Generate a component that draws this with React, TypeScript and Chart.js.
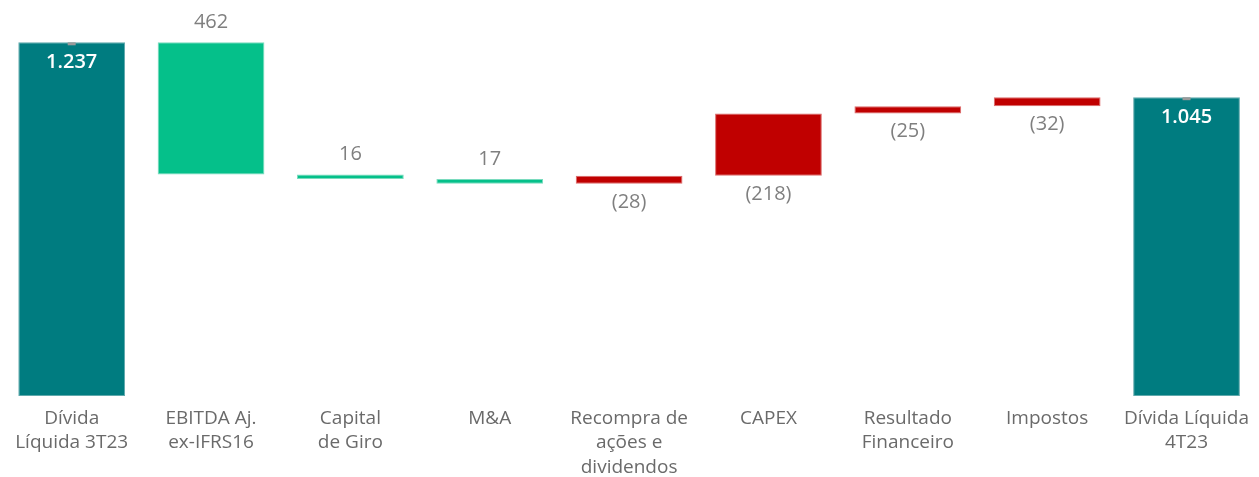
import React, { useEffect, useRef } from "react";
import { Chart, registerables } from "chart.js";

Chart.register(...registerables);

const categories: string[][] = [
  ["Dívida", "Líquida 3T23"],
  ["EBITDA Aj.", "ex-IFRS16"],
  ["Capital", "de Giro"],
  ["M&A"],
  ["Recompra de", "ações e", "dividendos"],
  ["CAPEX"],
  ["Resultado", "Financeiro"],
  ["Impostos"],
  ["Dívida Líquida", "4T23"],
];

// Net debt waterfall: positive items reduce debt, negative items increase it
const values: number[] = [1237, 462, 16, 17, -28, -218, -25, -32, 1045];
const kinds: string[] = ["total", "pos", "pos", "pos", "neg", "neg", "neg", "neg", "total"];

const TEAL = "#007C80";
const GREEN = "#05C08A";
const RED = "#C00000";
const LABEL_GREY = "#7F7F7F";
const AXIS_GREY = "#6A6A6A";
const FONT = "'Open Sans', sans-serif";

function buildRanges(): [number, number][] {
  const out: [number, number][] = [];
  let level = 0;
  values.forEach((v, i) => {
    if (kinds[i] === "total") {
      out.push([0, v]);
      level = v;
    } else {
      out.push([level, level - v]);
      level = level - v;
    }
  });
  return out;
}

function fmt(v: number, kind: string): string {
  const abs = Math.abs(v);
  const s = String(abs).replace(/\B(?=(\d{3})+(?!\d))/g, ".");
  if (kind === "neg") return "(" + s + ")";
  return s;
}

const labelPlugin = {
  id: "wfLabels",
  afterDatasetsDraw(chart: any) {
    const ctx = chart.ctx;
    const meta = chart.getDatasetMeta(0);
    ctx.save();
    ctx.textAlign = "center";
    ctx.textBaseline = "middle";
    meta.data.forEach((el: any, i: number) => {
      const top = Math.min(el.y, el.base);
      const bottom = Math.max(el.y, el.base);
      const kind = kinds[i];
      const txt = fmt(values[i], kind);
      if (kind === "total") {
        ctx.fillStyle = "#9A9A9A";
        ctx.fillRect(el.x - 4, top, 8, 3);
        ctx.font = "600 20px " + FONT;
        ctx.fillStyle = "#FFFFFF";
        ctx.fillText(txt, el.x, top + 20);
      } else if (kind === "pos") {
        ctx.font = "20px " + FONT;
        ctx.fillStyle = LABEL_GREY;
        ctx.fillText(txt, el.x, top - 20);
      } else {
        ctx.font = "20px " + FONT;
        ctx.fillStyle = LABEL_GREY;
        ctx.fillText(txt, el.x, bottom + 18);
      }
    });
    ctx.restore();
  },
};

export default function App() {
  const ref = useRef<HTMLCanvasElement | null>(null);

  useEffect(() => {
    if (!ref.current) return;
    const colors = kinds.map((k) => (k === "total" ? TEAL : k === "pos" ? GREEN : RED));
    const borders = kinds.map((k) =>
      k === "total" ? "#5FA9AC" : k === "pos" ? "#7ADBBE" : "#DB6A6A"
    );
    const chart = new Chart(ref.current, {
      type: "bar",
      data: {
        labels: categories,
        datasets: [
          {
            data: buildRanges() as any,
            backgroundColor: colors,
            borderColor: borders,
            borderWidth: 1,
            borderSkipped: false,
            barPercentage: 0.766,
            categoryPercentage: 1,
          },
        ],
      },
      options: {
        responsive: false,
        animation: false,
        layout: { padding: { top: 10, left: 2, right: 0, bottom: 0 } },
        plugins: {
          legend: { display: false },
          tooltip: { enabled: false },
        },
        scales: {
          x: {
            grid: { display: false, drawTicks: false },
            border: { display: false },
            ticks: {
              padding: 10,
              color: AXIS_GREY,
              font: { family: FONT, size: 19, lineHeight: 1.29 },
              maxRotation: 0,
              autoSkip: false,
            },
            afterFit: (scale: any) => {
              scale.height = 81;
            },
          },
          y: {
            display: false,
            min: 0,
            max: 1350,
          },
        },
      },
      plugins: [labelPlugin],
    });
    return () => chart.destroy();
  }, []);

  return (
    <div style={{ position: "fixed", left: 0, top: 0, width: 1259, height: 477, background: "#fff" }}>
      <canvas ref={ref} width={1259} height={477} />
    </div>
  );
}
